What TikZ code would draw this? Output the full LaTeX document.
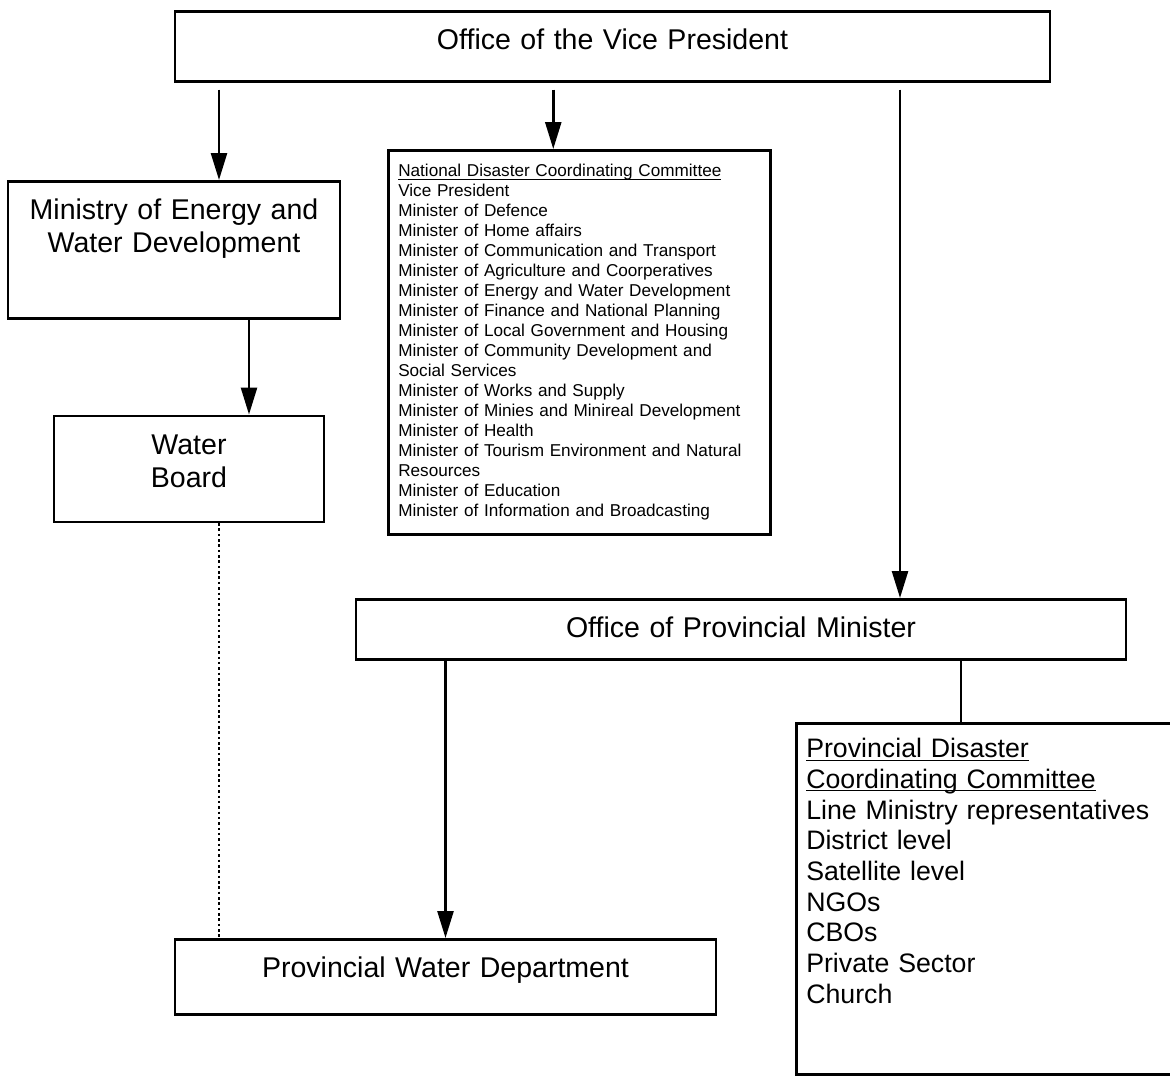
\documentclass[tikz,border=0pt]{standalone}
\usepackage{fontspec}
\setmainfont{Liberation Sans}
\usetikzlibrary{arrows.meta,positioning}

\newcommand{\headline}[1]{\underline{\smash{#1}}}

\begin{document}
\begin{tikzpicture}[
  box/.style={
    draw=black,line width=1.8pt,fill=white,
    align=center,inner xsep=2mm,inner ysep=4.3mm,text height=5.25mm,
    font=\fontsize{20.3}{23.5}\selectfont
  },
  listbox/.style={
    draw=black,line width=1.8pt,fill=white,
    align=left,inner xsep=2.5mm,anchor=north west
  },
  arrow/.style={-{Triangle[length=6.75mm,width=4mm]},draw=black,line width=1.8pt},
  fromvp/.style={arrow,shorten <=1.75mm},
  link/.style={draw=black,line width=1.8pt},
  dotlink/.style={link,dotted}
]

\path[use as bounding box] (0,0) rectangle (29.25,-26.875);

\node[box,anchor=north,text width=21.475cm,text depth=3.65mm] (vp) at (15.3125,-0.25)
  {Office of the Vice President};

\node[box,anchor=north,text width=7.9cm,text depth=20.4mm] (ministry) at (4.35,-4.5)
  {Ministry of Energy and\\Water Development};
\node[box,text width=6.35cm,text depth=12.65mm,below=2.375cm of ministry,xshift=3.75mm] (board)
  {Water\\Board};

\node[listbox,inner ysep=3.5mm,text width=9.05cm,text height=3.15mm,text depth=85.85mm,
  font=\fontsize{12.2}{14.2}\selectfont] (ndcc) at (9.675,-3.725) {
  \headline{National Disaster Coordinating Committee}\\
  Vice President\\
  Minister of Defence\\
  Minister of Home affairs\\
  Minister of Communication and Transport\\
  Minister of Agriculture and Coorperatives\\
  Minister of Energy and Water Development\\
  Minister of Finance and National Planning\\
  Minister of Local Government and Housing\\
  Minister of Community Development and\\
  Social Services\\
  Minister of Works and Supply\\
  Minister of Minies and Minireal Development\\
  Minister of Health\\
  Minister of Tourism Environment and Natural\\
  Resources\\
  Minister of Education\\
  Minister of Information and Broadcasting
};

\node[box,anchor=north,text width=18.85cm,text depth=1.15mm] (pm) at (18.525,-14.95)
  {Office of Provincial Minister};

\node[box,anchor=north,text width=13.125cm,text depth=4.9mm] (pwd) at (11.1375,-23.45)
  {Provincial Water Department};

\node[listbox,inner ysep=3.75mm,text width=9.25cm,text height=4.9mm,text depth=75.4mm,
  font=\fontsize{19}{21.8}\selectfont] (pdcc) at (19.875,-18.05) {
  \headline{Provincial Disaster}\\
  \headline{Coordinating Committee}\\
  Line Ministry representatives\\
  District level\\
  Satellite level\\
  NGOs\\
  CBOs\\
  Private Sector\\
  Church
};

\draw[fromvp] ([xshift=11.25mm]ministry.north |- vp.south) -- ([xshift=11.25mm]ministry.north);
\draw[fromvp] ([xshift=-6.5mm]ndcc.north |- vp.south) -- ([xshift=-6.5mm]ndcc.north);
\draw[fromvp] ([xshift=39.75mm]pm.north |- vp.south) -- ([xshift=39.75mm]pm.north);
\draw[arrow] ([xshift=15mm]board.north |- ministry.south) -- ([xshift=15mm]board.north);
\draw[arrow] (pwd.north |- pm.south) -- (pwd.north);
\draw[link] ([xshift=41.5mm]pdcc.north west |- pm.south) -- ([xshift=41.5mm]pdcc.north west);
\draw[dotlink] ([xshift=7.5mm]board.south) -- ([xshift=7.5mm]board.south |- pwd.north);

\end{tikzpicture}
\end{document}
